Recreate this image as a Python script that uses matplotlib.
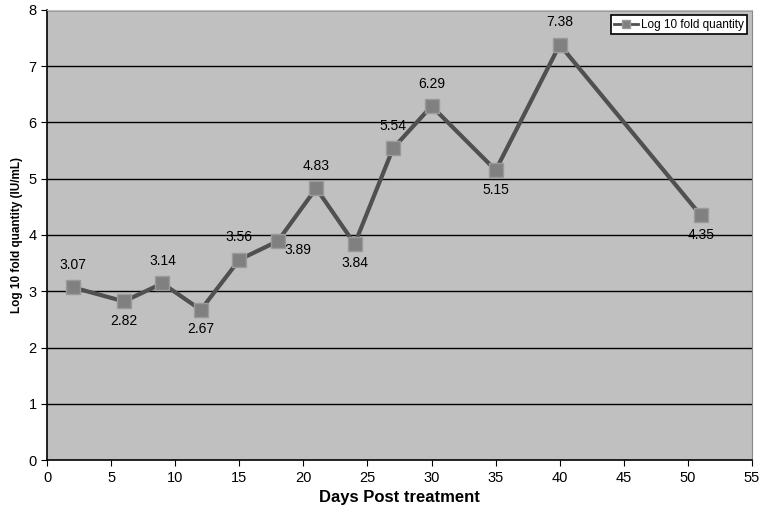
import matplotlib
matplotlib.use("Agg")
import matplotlib.pyplot as plt

days = [2, 6, 9, 12, 15, 18, 21, 24, 27, 30, 35, 40, 51]
log_qty = [3.07, 2.82, 3.14, 2.67, 3.56, 3.89, 4.83, 3.84, 5.54, 6.29, 5.15, 7.38, 4.35]
# where each label sits relative to its point
label_pos = ["above", "below", "above", "below", "above", "right",
             "above", "below", "above", "above", "below", "above", "below"]

fig = plt.figure(figsize=(7.67, 5.17), dpi=100)
ax = fig.add_axes([0.0613, 0.110, 0.9192, 0.871])
ax.set_facecolor("#c0c0c0")

for y in range(1, 9):
    ax.axhline(y, color="black", lw=1.0, zorder=1)

ax.plot(days, log_qty, color="#505050", lw=3, marker="s", ms=9.5,
        mfc="#808080", mec="#9a9a9a", mew=1, zorder=3,
        label="Log 10 fold quantity")

for x, y, p in zip(days, log_qty, label_pos):
    if p == "above":
        ax.annotate(f"{y:.2f}", (x, y), xytext=(0, 11), textcoords="offset points",
                    ha="center", va="bottom", fontsize=10, family="Liberation Sans")
    elif p == "below":
        ax.annotate(f"{y:.2f}", (x, y), xytext=(0, -9), textcoords="offset points",
                    ha="center", va="top", fontsize=10, family="Liberation Sans")
    else:
        ax.annotate(f"{y:.2f}", (x, y), xytext=(5, -6), textcoords="offset points",
                    ha="left", va="center", fontsize=10, family="Liberation Sans")

ax.set_xlim(0, 55)
ax.set_ylim(0, 8)
ax.set_xticks(range(0, 56, 5))
ax.set_yticks(range(0, 9))
ax.tick_params(direction="out", length=4, labelsize=10.5, colors="black")
for lab in ax.get_xticklabels() + ax.get_yticklabels():
    lab.set_family("Liberation Sans")

ax.spines["left"].set_linewidth(1.2)
ax.spines["bottom"].set_linewidth(1.2)
ax.spines["top"].set_color("#c0c0c0")
ax.spines["right"].set_color("#888888")

ax.set_xlabel("Days Post treatment", fontsize=12, fontweight="bold", family="Liberation Sans")
ax.set_ylabel("Log 10 fold quantity (IU/mL)", fontsize=8.5, fontweight="bold", family="Liberation Sans")

leg = ax.legend(loc="upper right", bbox_to_anchor=(0.993, 0.988), frameon=True,
                fancybox=False, framealpha=1, handlelength=2.0, handletextpad=0.25,
                markerscale=0.6, borderpad=0.3, borderaxespad=0,
                prop={"family": "Liberation Sans", "size": 8.5})
leg.get_frame().set_edgecolor("black")
leg.get_frame().set_linewidth(1.2)
leg.legend_handles[0].set_linewidth(2)

fig.savefig("out.png", dpi=100)
